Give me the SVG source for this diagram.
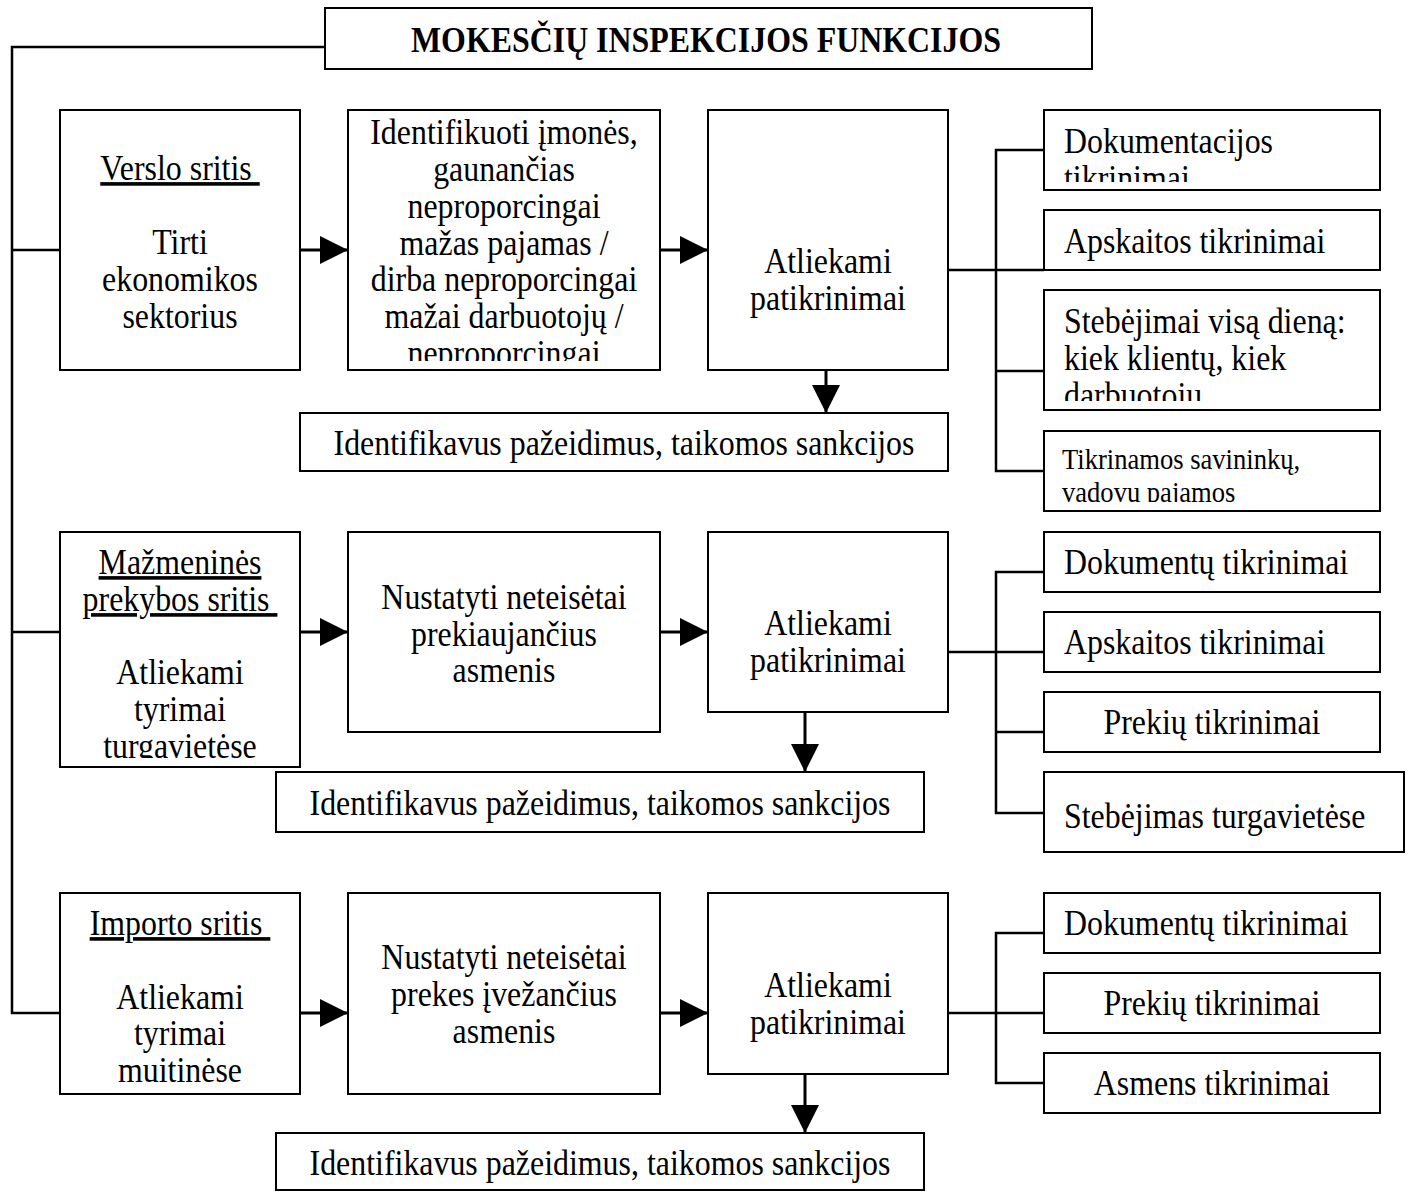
<svg xmlns="http://www.w3.org/2000/svg" width="1409" height="1191" viewBox="0 0 1409 1191">
<style>
.box{fill:#fff;stroke:#000;stroke-width:2}
.t{font-family:"Liberation Serif","Times New Roman",serif;font-size:36px;fill:#000;transform-box:fill-box;transform-origin:center;transform:scaleX(0.886)}
.c{text-anchor:middle}
.l{transform-origin:left center}
.u{text-decoration:underline;white-space:pre}
.sm{font-size:30px}
.ttl{font-weight:bold;text-anchor:middle}
.ln{fill:none;stroke:#000;stroke-width:2.5}
.ar{fill:none;stroke:#000;stroke-width:3;marker-end:url(#ah)}
</style>
<defs>
<marker id="ah" markerUnits="userSpaceOnUse" markerWidth="28" markerHeight="28" refX="28" refY="14" orient="auto">
<path d="M0,0 L28,14 L0,28 z" fill="#000"/>
</marker>
<clipPath id="cB1"><rect x="348" y="110" width="312" height="251"/></clipPath>
<clipPath id="cD1a"><rect x="1044" y="110" width="336" height="72"/></clipPath>
<clipPath id="cD1c"><rect x="1044" y="290" width="336" height="111"/></clipPath>
<clipPath id="cD1d"><rect x="1044" y="431" width="336" height="71"/></clipPath>
<clipPath id="cA2"><rect x="60" y="532" width="240" height="226"/></clipPath>
</defs>

<g id="connectors">
<polyline class="ln" points="325,47 12,47 12,1013 60,1013"/>
<line class="ln" x1="12" y1="250" x2="60" y2="250"/>
<line class="ln" x1="12" y1="632" x2="60" y2="632"/>
<line class="ar" x1="300" y1="250" x2="348" y2="250"/>
<line class="ar" x1="660" y1="250" x2="708" y2="250"/>
<line class="ar" x1="826" y1="370" x2="826" y2="413"/>
<line class="ln" x1="948" y1="270" x2="1044" y2="270"/>
<polyline class="ln" points="1044,150 996,150 996,471 1044,471"/>
<line class="ln" x1="996" y1="371" x2="1044" y2="371"/>
<line class="ar" x1="300" y1="632" x2="348" y2="632"/>
<line class="ar" x1="660" y1="632" x2="708" y2="632"/>
<line class="ar" x1="805" y1="712" x2="805" y2="772"/>
<line class="ln" x1="948" y1="652" x2="1044" y2="652"/>
<polyline class="ln" points="1044,572 996,572 996,813 1044,813"/>
<line class="ln" x1="996" y1="732" x2="1044" y2="732"/>
<line class="ar" x1="300" y1="1013" x2="348" y2="1013"/>
<line class="ar" x1="660" y1="1013" x2="708" y2="1013"/>
<line class="ar" x1="805" y1="1074" x2="805" y2="1133"/>
<line class="ln" x1="948" y1="1013" x2="1044" y2="1013"/>
<polyline class="ln" points="1044,933 996,933 996,1083 1044,1083"/>
</g>

<g id="title">
<rect class="box" x="325" y="8" width="767" height="61"/>
<text class="t ttl" x="706" y="52">MOKESČIŲ INSPEKCIJOS FUNKCIJOS</text>
</g>

<g id="A1">
<rect class="box" x="60" y="110" width="240" height="260"/>
<text class="t c u" x="180" y="180" xml:space="preserve">Verslo sritis </text>
<text class="t c" x="180" y="254">Tirti</text>
<text class="t c" x="180" y="291">ekonomikos</text>
<text class="t c" x="180" y="328">sektorius</text>
</g>
<g id="B1">
<rect class="box" x="348" y="110" width="312" height="260"/>
<g clip-path="url(#cB1)">
<text class="t c" x="504" y="144">Identifikuoti įmonės,</text>
<text class="t c" x="504" y="181">gaunančias</text>
<text class="t c" x="504" y="218">neproporcingai</text>
<text class="t c" x="504" y="255">mažas pajamas /</text>
<text class="t c" x="504" y="291">dirba neproporcingai</text>
<text class="t c" x="504" y="328">mažai darbuotojų /</text>
<text class="t c" x="504" y="365">neproporcingai</text>
</g>
</g>
<g id="C1">
<rect class="box" x="708" y="110" width="240" height="260"/>
<text class="t c" x="828" y="273">Atliekami</text>
<text class="t c" x="828" y="310">patikrinimai</text>
</g>
<g id="S1">
<rect class="box" x="300" y="413" width="648" height="58"/>
<text class="t c" x="624" y="455">Identifikavus pažeidimus, taikomos sankcijos</text>
</g>
<g id="D1a">
<rect class="box" x="1044" y="110" width="336" height="80"/>
<g clip-path="url(#cD1a)">
<text class="t l" x="1064" y="153">Dokumentacijos</text>
<text class="t l" x="1064" y="190">tikrinimai</text>
</g>
</g>
<g id="D1b">
<rect class="box" x="1044" y="210" width="336" height="60"/>
<text class="t l" x="1064" y="253">Apskaitos tikrinimai</text>
</g>
<g id="D1c">
<rect class="box" x="1044" y="290" width="336" height="120"/>
<g clip-path="url(#cD1c)">
<text class="t l" x="1064" y="333">Stebėjimai visą dieną:</text>
<text class="t l" x="1064" y="370">kiek klientų, kiek</text>
<text class="t l" x="1064" y="407">darbuotojų</text>
</g>
</g>
<g id="D1d">
<rect class="box" x="1044" y="431" width="336" height="80"/>
<g clip-path="url(#cD1d)">
<text class="t l sm" x="1062" y="469">Tikrinamos savininkų,</text>
<text class="t l sm" x="1062" y="502">vadovų pajamos</text>
</g>
</g>

<g id="A2">
<rect class="box" x="60" y="532" width="240" height="235"/>
<g clip-path="url(#cA2)">
<text class="t c u" x="180" y="574">Mažmeninės</text>
<text class="t c u" x="180" y="611" xml:space="preserve">prekybos sritis </text>
<text class="t c" x="180" y="684">Atliekami</text>
<text class="t c" x="180" y="721">tyrimai</text>
<text class="t c" x="180" y="758">turgavietėse</text>
</g>
</g>
<g id="B2">
<rect class="box" x="348" y="532" width="312" height="200"/>
<text class="t c" x="504" y="609">Nustatyti neteisėtai</text>
<text class="t c" x="504" y="646">prekiaujančius</text>
<text class="t c" x="504" y="682">asmenis</text>
</g>
<g id="C2">
<rect class="box" x="708" y="532" width="240" height="180"/>
<text class="t c" x="828" y="635">Atliekami</text>
<text class="t c" x="828" y="672">patikrinimai</text>
</g>
<g id="S2">
<rect class="box" x="276" y="772" width="648" height="60"/>
<text class="t c" x="600" y="815">Identifikavus pažeidimus, taikomos sankcijos</text>
</g>
<g id="D2a">
<rect class="box" x="1044" y="532" width="336" height="60"/>
<text class="t l" x="1064" y="574">Dokumentų tikrinimai</text>
</g>
<g id="D2b">
<rect class="box" x="1044" y="612" width="336" height="60"/>
<text class="t l" x="1064" y="654">Apskaitos tikrinimai</text>
</g>
<g id="D2c">
<rect class="box" x="1044" y="692" width="336" height="60"/>
<text class="t c" x="1212" y="734">Prekių tikrinimai</text>
</g>
<g id="D2d">
<rect class="box" x="1044" y="772" width="360" height="80"/>
<text class="t l" x="1064" y="828">Stebėjimas turgavietėse</text>
</g>

<g id="A3">
<rect class="box" x="60" y="893" width="240" height="201"/>
<text class="t c u" x="180" y="935" xml:space="preserve">Importo sritis </text>
<text class="t c" x="180" y="1009">Atliekami</text>
<text class="t c" x="180" y="1045">tyrimai</text>
<text class="t c" x="180" y="1082">muitinėse</text>
</g>
<g id="B3">
<rect class="box" x="348" y="893" width="312" height="201"/>
<text class="t c" x="504" y="969">Nustatyti neteisėtai</text>
<text class="t c" x="504" y="1006">prekes įvežančius</text>
<text class="t c" x="504" y="1043">asmenis</text>
</g>
<g id="C3">
<rect class="box" x="708" y="893" width="240" height="181"/>
<text class="t c" x="828" y="997">Atliekami</text>
<text class="t c" x="828" y="1034">patikrinimai</text>
</g>
<g id="S3">
<rect class="box" x="276" y="1133" width="648" height="57"/>
<text class="t c" x="600" y="1175">Identifikavus pažeidimus, taikomos sankcijos</text>
</g>
<g id="D3a">
<rect class="box" x="1044" y="893" width="336" height="60"/>
<text class="t l" x="1064" y="935">Dokumentų tikrinimai</text>
</g>
<g id="D3b">
<rect class="box" x="1044" y="973" width="336" height="60"/>
<text class="t c" x="1212" y="1015">Prekių tikrinimai</text>
</g>
<g id="D3c">
<rect class="box" x="1044" y="1053" width="336" height="60"/>
<text class="t c" x="1212" y="1095">Asmens tikrinimai</text>
</g>
</svg>
